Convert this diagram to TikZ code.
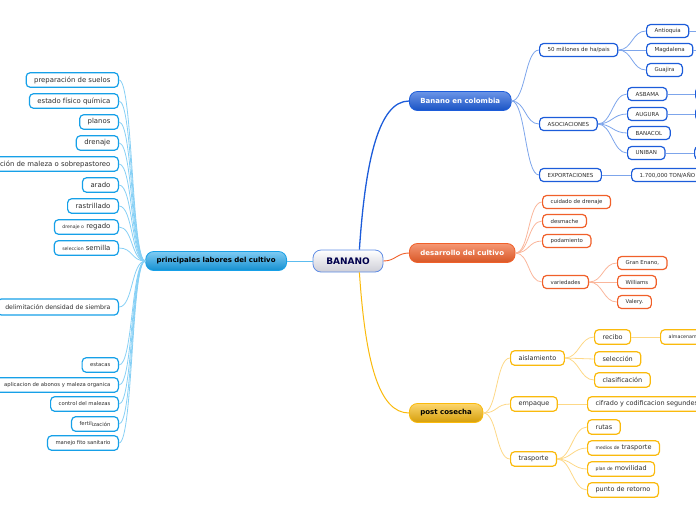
\documentclass[tikz,border=0pt]{standalone}
\usepackage{fontspec}
\setmainfont{DejaVu Sans}
\usetikzlibrary{positioning}
\definecolor{cyanbd}{RGB}{22,160,232}
\definecolor{cyanln}{RGB}{135,208,245}
\definecolor{bluebd}{RGB}{28,92,218}
\definecolor{blueln}{RGB}{125,165,235}
\definecolor{orangebd}{RGB}{240,96,42}
\definecolor{orangeln}{RGB}{250,182,155}
\definecolor{yellowbd}{RGB}{250,186,12}
\definecolor{yellowln}{RGB}{253,216,135}
\definecolor{leaftext}{RGB}{45,45,45}
\newcommand{\tsm}{\fontsize{4.6}{5}\selectfont}

\begin{document}
\begin{tikzpicture}[x=1pt,y=-1pt,
    leaf/.style={draw, fill=white, rounded corners=4pt, line width=1.2pt, text=leaftext,
      inner xsep=8pt, inner ysep=0pt, minimum height=13pt},
    leafc/.style={leaf, draw=cyanbd, minimum height=14.5pt, font=\fontsize{6.9}{7}\selectfont},
    leafcs/.style={leafc, font=\fontsize{5.3}{6}\selectfont},
    leafb/.style={leaf, draw=bluebd, font=\fontsize{5.5}{6}\selectfont},
    leafo/.style={leaf, draw=orangebd, font=\fontsize{5.4}{6}\selectfont},
    leafy/.style={leaf, draw=yellowbd, minimum height=14.5pt, font=\fontsize{6.5}{7}\selectfont},
    topic/.style={rounded corners=8pt, line width=0.8pt, inner xsep=11pt, inner ysep=0pt,
      minimum height=19pt, font=\fontsize{7}{8}\bfseries},
    edgec/.style={cyanln, line width=0.8pt},
    edgeb/.style={blueln, line width=0.8pt},
    edgeo/.style={orangeln, line width=0.8pt},
    edgey/.style={yellowln, line width=0.8pt}]
\useasboundingbox (0,0) rectangle (696,520);

% central topic and main branches
\node[topic, draw=bluebd!70, top color=white, bottom color=blue!10!gray!35, text=blue!30!black,
  minimum width=70pt, minimum height=22pt, font=\fontsize{9}{10}\bfseries] (banano) at (348,261) {BANANO};
\node[topic, anchor=east, draw=cyanbd, top color=cyanbd!55, bottom color=cyanbd!90!black, text=black] (lab) at (287,261) {principales labores del cultivo};
\node[topic, anchor=west, draw=bluebd, top color=bluebd!65, bottom color=bluebd!90!black, text=white] (bec) at (409,101) {Banano en colombia};
\node[topic, anchor=west, draw=orangebd, top color=orangebd!65, bottom color=orangebd!90!black, text=white] (dc) at (409,253) {desarrollo del cultivo};
\node[topic, anchor=west, draw=yellowbd, top color=yellowbd!60, bottom color=yellowbd!85!black, text=black] (pc) at (409,413) {post cosecha};

\draw[cyanbd!70, line width=0.8pt] (banano.west) -- (lab.east);
\draw[bluebd, line width=1.3pt] (banano.45) .. controls +(6,-90) and +(-30,0) .. (bec.west);
\draw[orangebd, line width=0.9pt] (banano.east) .. controls +(12,0) and +(-12,0) .. (dc.west);
\draw[yellowbd, line width=1pt] (banano.-45) .. controls +(6,90) and +(-30,0) .. (pc.west);

% principales labores del cultivo
\node[leafc, anchor=east] (l1) at (119,80) {preparación de suelos};
\node[leafc, anchor=east] (l2) at (119,101) {estado físico química};
\node[leafc, anchor=east] (l3) at (119,122) {planos};
\node[leafc, anchor=east] (l4) at (119,143) {drenaje};
\node[leafc, anchor=east] (l5) at (119,164) {eliminación de maleza o sobrepastoreo};
\node[leafc, anchor=east] (l6) at (119,185) {arado};
\node[leafc, anchor=east] (l7) at (119,206) {rastrillado};
\node[leafc, anchor=east] (l8) at (119,227) {{\tsm drenaje o} regado};
\node[leafc, anchor=east] (l9) at (119,248) {{\tsm seleccion} semilla};
\node[leafc, anchor=east, minimum height=16pt, font=\fontsize{6.2}{7}\selectfont] (l10) at (119,307) {delimitación densidad de siembra};
\node[leafcs, anchor=east] (l11) at (119,365) {estacas};
\node[leafcs, anchor=east] (l12) at (119,385) {aplicacion de abonos y maleza organica};
\node[leafcs, anchor=east] (l13) at (119,404) {control del malezas};
\node[leafcs, anchor=east] (l14) at (119,424) {fertil\raisebox{-1pt}{ización}};
\node[leafcs, anchor=east] (l15) at (119,443) {manejo fito sanitario};

\draw[edgec] (lab.west) .. controls +(-14,0) and +(14,0) .. (l1.east);
\draw[edgec] (lab.west) .. controls +(-14,0) and +(14,0) .. (l2.east);
\draw[edgec] (lab.west) .. controls +(-14,0) and +(14,0) .. (l3.east);
\draw[edgec] (lab.west) .. controls +(-14,0) and +(14,0) .. (l4.east);
\draw[edgec] (lab.west) .. controls +(-14,0) and +(14,0) .. (l5.east);
\draw[edgec] (lab.west) .. controls +(-14,0) and +(14,0) .. (l6.east);
\draw[edgec] (lab.west) .. controls +(-14,0) and +(14,0) .. (l7.east);
\draw[edgec] (lab.west) .. controls +(-14,0) and +(14,0) .. (l8.east);
\draw[edgec] (lab.west) .. controls +(-14,0) and +(14,0) .. (l9.east);
\draw[edgec] (lab.west) .. controls +(-14,0) and +(14,0) .. (l10.east);
\draw[edgec] (lab.west) .. controls +(-14,0) and +(14,0) .. (l11.east);
\draw[edgec] (lab.west) .. controls +(-14,0) and +(14,0) .. (l12.east);
\draw[edgec] (lab.west) .. controls +(-14,0) and +(14,0) .. (l13.east);
\draw[edgec] (lab.west) .. controls +(-14,0) and +(14,0) .. (l14.east);
\draw[edgec] (lab.west) .. controls +(-14,0) and +(14,0) .. (l15.east);

% Banano en colombia
\node[leafb, anchor=west] (b1) at (539,50) {50 millones de ha/pais};
\node[leafb, anchor=west] (b2) at (539,124) {ASOCIACIONES};
\node[leafb, anchor=west] (b3) at (539,175) {EXPORTACIONES};
\node[leafb, anchor=west] (b11) at (646,31) {Antioquia};
\node[leafb, anchor=west] (b12) at (646,50) {Magdalena};
\node[leafb, anchor=west] (b13) at (646,70) {Guajira};
\node[leafb, anchor=west] (b21) at (627,94) {ASBAMA};
\node[leafb, anchor=west] (b22) at (627,114) {AUGURA};
\node[leafb, anchor=west] (b23) at (627,133) {BANACOL};
\node[leafb, anchor=west] (b24) at (627,153) {UNIBAN};
\node[leafb, anchor=west] (b31) at (631,175) {1.700,000 TON/AÑO};
\coordinate (b11r) at (700,31);
\coordinate (b12r) at (700,50);
\node[leafb, anchor=west, minimum width=30pt] (b211) at (695,94) {};
\node[leafb, anchor=west, minimum width=30pt] (b221) at (695,114) {};
\node[leafb, anchor=west, minimum width=30pt] (b241) at (694,153) {};

\draw[edgeb] (bec.east) .. controls +(14,0) and +(-14,0) .. (b1.west);
\draw[edgeb] (bec.east) .. controls +(14,0) and +(-14,0) .. (b2.west);
\draw[edgeb] (bec.east) .. controls +(14,0) and +(-14,0) .. (b3.west);
\draw[edgeb] (b1.east) .. controls +(14,0) and +(-14,0) .. (b11.west);
\draw[edgeb] (b1.east) .. controls +(14,0) and +(-14,0) .. (b12.west);
\draw[edgeb] (b1.east) .. controls +(14,0) and +(-14,0) .. (b13.west);
\draw[edgeb] (b2.east) .. controls +(14,0) and +(-14,0) .. (b21.west);
\draw[edgeb] (b2.east) .. controls +(14,0) and +(-14,0) .. (b22.west);
\draw[edgeb] (b2.east) .. controls +(14,0) and +(-14,0) .. (b23.west);
\draw[edgeb] (b2.east) .. controls +(14,0) and +(-14,0) .. (b24.west);
\draw[edgeb] (b3.east) -- (b31.west);
\draw[edgeb] (b11.east) -- (b11r);
\draw[edgeb] (b12.east) -- (b12r);
\draw[edgeb] (b21.east) -- (b211.west);
\draw[edgeb] (b22.east) -- (b221.west);
\draw[edgeb] (b24.east) -- (b241.west);

% desarrollo del cultivo
\node[leafo, anchor=west] (o1) at (542,202) {cuidado de drenaje};
\node[leafo, anchor=west] (o2) at (542,221) {desmache};
\node[leafo, anchor=west] (o3) at (542,241) {podamiento};
\node[leafo, anchor=west] (o4) at (542,282) {variedades};
\node[leafo, anchor=west] (o41) at (617,263) {Gran Enano,};
\node[leafo, anchor=west] (o42) at (617,282) {Williams};
\node[leafo, anchor=west] (o43) at (617,302) {Valery.};

\draw[edgeo] (dc.east) .. controls +(14,0) and +(-14,0) .. (o1.west);
\draw[edgeo] (dc.east) .. controls +(14,0) and +(-14,0) .. (o2.west);
\draw[edgeo] (dc.east) .. controls +(14,0) and +(-14,0) .. (o3.west);
\draw[edgeo] (dc.east) .. controls +(14,0) and +(-14,0) .. (o4.west);
\draw[edgeo] (o4.east) .. controls +(14,0) and +(-14,0) .. (o41.west);
\draw[edgeo] (o4.east) -- (o42.west);
\draw[edgeo] (o4.east) .. controls +(14,0) and +(-14,0) .. (o43.west);

% post cosecha
\node[leafy, anchor=west] (y1) at (510,358) {aislamiento};
\node[leafy, anchor=west] (y2) at (510,404) {empaque};
\node[leafy, anchor=west] (y3) at (510,459) {trasporte};
\node[leafy, anchor=west] (y11) at (594,337) {recibo};
\node[leafy, anchor=west, font=\fontsize{4.8}{5}\selectfont] (y111) at (660,337) {almacenamiento};
\node[leafy, anchor=west] (y12) at (594,359) {selección};
\node[leafy, anchor=west] (y13) at (594,380) {clasificación};
\node[leafy, anchor=west] (y21) at (587,404) {cifrado y codificacion segundes};
\node[leafy, anchor=west] (y31) at (587,427) {rutas};
\node[leafy, anchor=west] (y32) at (587,448) {{\tsm medios de} trasporte};
\node[leafy, anchor=west] (y33) at (587,469) {{\tsm plan de} movilidad};
\node[leafy, anchor=west] (y34) at (587,490) {punto de retorno};

\draw[edgey] (pc.east) .. controls +(14,0) and +(-14,0) .. (y1.west);
\draw[edgey] (pc.east) .. controls +(14,0) and +(-14,0) .. (y2.west);
\draw[edgey] (pc.east) .. controls +(14,0) and +(-14,0) .. (y3.west);
\draw[edgey] (y1.east) .. controls +(14,0) and +(-14,0) .. (y11.west);
\draw[edgey] (y1.east) -- (y12.west);
\draw[edgey] (y1.east) .. controls +(14,0) and +(-14,0) .. (y13.west);
\draw[edgey] (y11.east) -- (y111.west);
\draw[edgey] (y2.east) -- (y21.west);
\draw[edgey] (y3.east) .. controls +(14,0) and +(-14,0) .. (y31.west);
\draw[edgey] (y3.east) .. controls +(14,0) and +(-14,0) .. (y32.west);
\draw[edgey] (y3.east) .. controls +(14,0) and +(-14,0) .. (y33.west);
\draw[edgey] (y3.east) .. controls +(14,0) and +(-14,0) .. (y34.west);
\end{tikzpicture}
\end{document}
